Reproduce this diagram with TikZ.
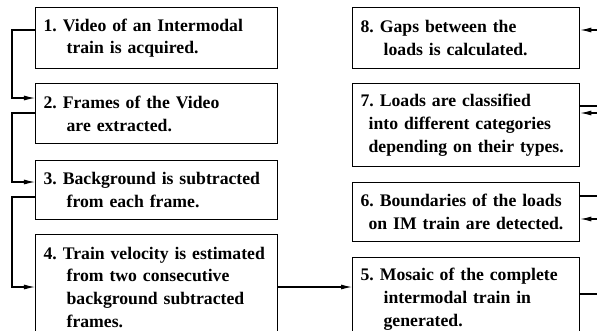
\documentclass[tikz,border=0pt]{standalone}
\usepackage{fontspec}
\setmainfont{Liberation Serif}
\usetikzlibrary{arrows.meta}
\frenchspacing
\newcommand{\lind}{\hspace*{0.69cm}}
\newcommand{\sind}{\hspace*{0.24cm}}

\begin{document}
\begin{tikzpicture}[x=0.03cm, y=-0.03cm,
    >={Latex[length=3.3mm,width=1.5mm]},
    stage/.style={draw, line width=1.1pt, rectangle, anchor=north west, align=left,
      inner xsep=0.24cm, inner ysep=0pt, font=\fontsize{15.1}{19.4}\selectfont\bfseries},
    lstage/.style={stage, text width=6.78cm},
    rstage/.style={stage, text width=6.33cm},
    edge/.style={->, line width=0.9pt}]

  \useasboundingbox (0,0) rectangle (597,330);
  \clip (0,0) rectangle (597,330);

  \node[lstage, minimum height=1.83cm] (vid) at (35,7)   {1. Video of an Intermodal\\\lind train is acquired.};
  \node[lstage, minimum height=1.8cm]  (frm) at (35,83)  {2. Frames of the Video\\\lind are extracted.};
  \node[lstage, minimum height=1.77cm] (bgs) at (35,160) {3. Background is subtracted\\\lind from each frame.};
  \node[lstage, minimum height=3.15cm] (vel) at (35,234) {4. Train velocity is estimated\\\lind from two consecutive\\\lind background subtracted\\\lind frames.};
  \node[rstage, minimum height=2.49cm] (mos) at (352,257) {5. Mosaic of the complete\\\lind intermodal train in\\\lind generated.};
  \node[rstage, minimum height=1.77cm] (bnd) at (352,182) {6. Boundaries of the loads\\\sind on IM train are detected.};
  \node[rstage, minimum height=2.49cm] (cls) at (352,83)  {7. Loads are classified\\\sind into different categories\\\sind depending on their types.};
  \node[rstage, minimum height=1.83cm] (gap) at (352,7)   {8. Gaps between the\\\lind loads is calculated.};

  \draw[edge] (vid.west |- 0,30) -- (12,30) |- (frm.west |- 0,98);
  \draw[edge] (frm.west |- 0,113) -- (12,113) |- (bgs.west |- 0,182);
  \draw[edge] (bgs.west |- 0,197) -- (12,197) |- (vel.west |- 0,287);
  \draw[edge] (vel.east |- 0,287) -- (mos.west |- 0,287);
  \draw[edge] (mos.east |- 0,294) -- (603,294) |- (bnd.east |- 0,219);
  \draw[edge] (bnd.east |- 0,196) -- (603,196) |- (cls.east |- 0,113);
  \draw[edge] (cls.east |- 0,106) -- (603,106) |- (gap.east |- 0,30);
\end{tikzpicture}
\end{document}
